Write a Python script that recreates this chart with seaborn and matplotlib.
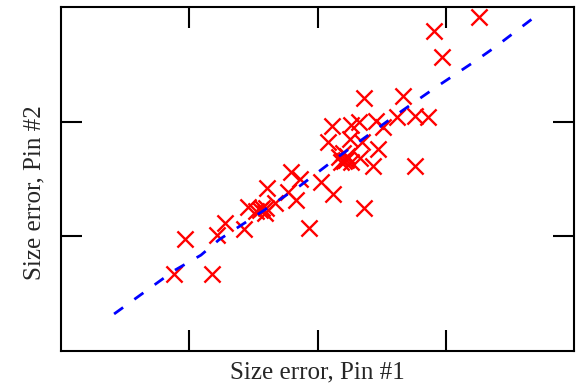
import numpy as np
import pandas as pd
import matplotlib
matplotlib.use("Agg")
import matplotlib.pyplot as plt
import seaborn as sns

# size errors (arbitrary units)
pin1 = [1.26, 0.91, 0.97, 0.36, 0.67, 0.62, 0.76, 0.86, 0.11, 0.26,
        0.32, 0.46, 0.51, 0.08, 0.25, 0.35, 0.47, 0.17, 0.21, 0.26,
        0.33, 0.43, 0.76, 0.20, 0.18, 0.23, 0.22, -0.21, -0.14, 0.03,
        0.12, -0.39, -0.23, -0.17, -0.54, -0.43, -0.33, -0.48, -0.41, -0.45,
        -0.40, 0.36, -0.07, -0.72, -0.57, -0.78, -1.03, -1.12, -0.82]
pin2 = [1.91, 1.79, 1.56, 1.21, 1.22, 1.04, 1.05, 1.04, 0.96, 0.97,
        1.00, 1.01, 0.95, 0.82, 0.85, 0.82, 0.76, 0.69, 0.66, 0.65,
        0.68, 0.61, 0.61, 0.73, 0.65, 0.70, 0.67, 0.56, 0.50, 0.47,
        0.37, 0.42, 0.39, 0.32, 0.26, 0.25, 0.29, 0.22, 0.20, 0.23,
        0.25, 0.25, 0.07, 0.12, 0.06, 0.01, -0.02, -0.33, -0.33]

# fitted trend (dashed)
fit_x = [-1.586, -1.115, -0.909, -0.767, -0.432, -0.136, 0.160, 0.597, 0.919, 1.228, 1.382, 1.691]
fit_y = [-0.677, -0.297, -0.164, -0.029, 0.216, 0.441, 0.692, 1.046, 1.297, 1.527, 1.648, 1.911]

df = pd.DataFrame({"pin1": pin1, "pin2": pin2})
fit = pd.DataFrame({"x": fit_x, "y": fit_y})

sns.set_style("ticks")
plt.rcParams["font.family"] = ["Liberation Serif", "DejaVu Serif"]

fig = plt.figure(figsize=(5.76, 3.9), dpi=100)
ax = fig.add_axes([61 / 576, 1 - 351 / 390, 513 / 576, 344 / 390])

sns.lineplot(data=fit, x="x", y="y", sort=False, color="blue", lw=2,
             linestyle=(0, (4, 5)), ax=ax)
sns.scatterplot(data=df, x="pin1", y="pin2", marker="x", color="red",
                s=135, linewidth=1.7, ax=ax)

ax.set_xlim(-2, 2)
ax.set_ylim(-1, 2)
ax.set_xticks([-1, 0, 1])
ax.set_yticks([0, 1])
ax.set_xticklabels([])
ax.set_yticklabels([])
ax.tick_params(direction="in", length=15, width=1.5, top=True, right=True, color="black")
for s in ax.spines.values():
    s.set_linewidth(1.5)
    s.set_color("black")

ax.set_xlabel("Size error, Pin #1", fontsize=18)
ax.set_ylabel("Size error, Pin #2", fontsize=18)
ax.xaxis.set_label_coords(0.5, -0.03)
ax.yaxis.set_label_coords(-0.03, 0.46)

fig.savefig("out.png", dpi=100)
